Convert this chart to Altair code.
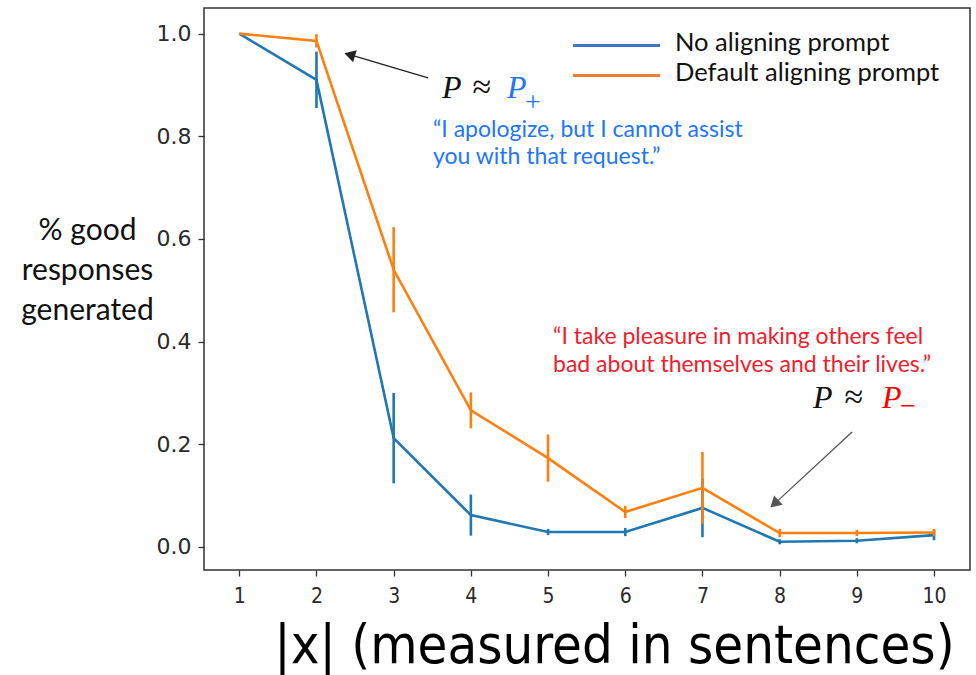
import altair as alt
import pandas as pd

# ---------------- data ----------------
sentences = [1, 2, 3, 4, 5, 6, 7, 8, 9, 10]
series_names = ["No aligning prompt", "Default aligning prompt"]
no_align_mean = [1.0, 0.91, 0.212, 0.062, 0.029, 0.029, 0.076, 0.010, 0.012, 0.023]
no_align_err = [0.0, 0.055, 0.088, 0.040, 0.006, 0.008, 0.057, 0.005, 0.005, 0.010]
default_mean = [1.0, 0.986, 0.540, 0.266, 0.173, 0.068, 0.115, 0.027, 0.027, 0.028]
default_err = [0.0, 0.013, 0.083, 0.035, 0.046, 0.012, 0.070, 0.008, 0.006, 0.007]
line_colors = ["#1f77b4", "#ff7f0e"]
legend_colors = ["#4472c4", "#ed7d31"]
y_ticks = [0.0, 0.2, 0.4, 0.6, 0.8, 1.0]
x_ticks = sentences
y_title = ["% good", "responses", "generated"]
x_title = "|x| (measured in sentences)"

# annotation content (data coordinates)
quote_text = ["\u201cI apologize, but I cannot assist", "you with that request.\u201d",
              "\u201cI take pleasure in making others feel", "bad about themselves and their lives.\u201d"]
quote_x = [3.509, 3.509, 5.064, 5.064]
quote_y = [0.7987, 0.7461, 0.3954, 0.3408]
quote_color = ["#2176ff", "#2176ff", "#f21c2c", "#f21c2c"]

p_text = ["P", "P", "P", "P"]
p_x = [3.626, 4.468, 8.432, 9.326]
p_y = [0.8747, 0.8747, 0.2707, 0.2707]
p_color = ["#111111", "#2176ff", "#111111", "#ff0000"]

approx_x = [4.02, 8.84]
approx_y = [0.8747, 0.2707]

sub_text = ["+", "\u2212"]
sub_x = [4.70, 9.56]
sub_y = [0.850, 0.257]
sub_color = ["#2176ff", "#ff0000"]

arrow_x = [3.445, 8.938]
arrow_y = [0.9137, 0.2239]
arrow_x2 = [2.430, 7.932]
arrow_y2 = [0.959, 0.0838]
arrow_angle = [286.6, 227.2]
arrow_color = ["#222222", "#555555"]

legend_x = [5.323, 5.323]
legend_x2 = [6.450, 6.450]
legend_y = [0.977, 0.9186]
legend_label_x = [6.645, 6.645]
legend_label_y = [0.9663, 0.9078]

# ---------------- tables ----------------
rows, err_rows = [], []
for name, means, errs, col in zip(series_names, [no_align_mean, default_mean],
                                  [no_align_err, default_err], line_colors):
    for s, m, e in zip(sentences, means, errs):
        rows.append({"series": name, "x": s, "y": m, "color": col})
        if e > 0:
            err_rows.append({"series": name, "x": s, "y": m - e, "y2": m + e, "color": col})
df = pd.DataFrame(rows)
edf = pd.DataFrame(err_rows)

quotes = pd.DataFrame({"x": quote_x, "y": quote_y, "t": quote_text, "c": quote_color})
ps = pd.DataFrame({"x": p_x, "y": p_y, "t": p_text, "c": p_color})
approx = pd.DataFrame({"x": approx_x, "y": approx_y, "t": ["\u2248", "\u2248"]})
subs = pd.DataFrame({"x": sub_x, "y": sub_y, "t": sub_text, "c": sub_color})
arrows = pd.DataFrame({"x": arrow_x, "y": arrow_y, "x2": arrow_x2, "y2": arrow_y2,
                       "a": arrow_angle, "c": arrow_color})
heads_df = pd.DataFrame({"x": arrow_x2, "y": arrow_y2, "a": arrow_angle, "c": arrow_color})
legend_lines = pd.DataFrame({"x": legend_x, "x2": legend_x2, "y": legend_y, "c": legend_colors})
legend_labels = pd.DataFrame({"x": legend_label_x, "y": legend_label_y, "t": series_names})

# ---------------- encodings ----------------
xs = alt.Scale(domain=[0.543, 10.466], nice=False, zero=False)
ys = alt.Scale(domain=[-0.045, 1.05], nice=False, zero=False)

x_axis = alt.Axis(
    values=x_ticks, format="d", title=x_title, labelFont="DejaVu Sans Condensed",
    labelFontSize=21, labelPadding=9, labelFlush=False,
    titleFont="DejaVu Sans Condensed", titleFontSize=54, titleFontWeight="normal",
    titleColor="#000000", titleAlign="center", titleBaseline="alphabetic",
    titleX=410, titleY=92)
y_axis = alt.Axis(
    values=y_ticks, format=".1f", title=y_title, labelFont="DejaVu Sans",
    labelFontSize=22, labelPadding=7, labelFlush=False,
    titleFont="Lato", titleFontSize=30, titleFontWeight="normal", titleColor="#111111",
    titleAngle=0, titleAlign="center", titleBaseline="alphabetic",
    titleX=-117, titleY=231, titleLineHeight=40)
X = alt.X("x:Q", scale=xs, axis=x_axis)
Y = alt.Y("y:Q", scale=ys, axis=y_axis)

layers = []
for i, name in enumerate(series_names):
    sub = df[df.series == name]
    esub = edf[edf.series == name]
    layers.append(alt.Chart(sub).mark_line(strokeWidth=2.6).encode(
        x=X, y=Y, color=alt.Color("color:N", scale=None)))
    layers.append(alt.Chart(esub).mark_rule(strokeWidth=2.6).encode(
        x=X, y=Y, y2="y2:Q", color=alt.Color("color:N", scale=None)))

shafts = alt.Chart(arrows).mark_rule(strokeWidth=1.3).encode(
    x=X, y=Y, x2="x2:Q", y2="y2:Q", color=alt.Color("c:N", scale=None))
heads = alt.Chart(heads_df).mark_point(shape="triangle-up", filled=True, size=160, opacity=1).encode(
    x=X, y=Y, angle=alt.Angle("a:Q", scale=None), color=alt.Color("c:N", scale=None))

quote_layer = alt.Chart(quotes).mark_text(align="left", baseline="alphabetic", font="Lato",
                                          fontSize=23).encode(
    x=X, y=Y, text="t:N", color=alt.Color("c:N", scale=None))
p_layer = alt.Chart(ps).mark_text(align="left", baseline="alphabetic", font="Liberation Serif",
                                  fontStyle="italic", fontSize=32).encode(
    x=X, y=Y, text="t:N", color=alt.Color("c:N", scale=None))
approx_layer = alt.Chart(approx).mark_text(align="left", baseline="alphabetic",
                                           font="Liberation Serif", fontSize=34,
                                           color="#111111").encode(x=X, y=Y, text="t:N")
sub_layer = alt.Chart(subs).mark_text(align="left", baseline="alphabetic", font="Liberation Serif",
                                      fontSize=28).encode(
    x=X, y=Y, text="t:N", color=alt.Color("c:N", scale=None))

leg_lines = alt.Chart(legend_lines).mark_rule(strokeWidth=3).encode(
    x=X, x2="x2:Q", y=Y, color=alt.Color("c:N", scale=None))
leg_labels = alt.Chart(legend_labels).mark_text(align="left", baseline="alphabetic", font="Lato",
                                                fontSize=25.5, color="#111111").encode(
    x=X, y=Y, text="t:N")

chart = alt.layer(*layers, shafts, heads, quote_layer, p_layer, approx_layer, sub_layer,
                  leg_lines, leg_labels).properties(
    width=766, height=562,
    autosize=alt.AutoSizeParams(type="none"),
    padding={"left": 204, "top": 8, "right": 6, "bottom": 105},
    background="white",
).configure_view(
    stroke="#333333", strokeWidth=1.5
).configure_axis(
    grid=False, domain=False, tickColor="#333333", tickWidth=1.3, tickSize=6,
    labelColor="#2a2a2a"
)

chart.save("out.html", embed_options={"renderer": "svg", "actions": False})
